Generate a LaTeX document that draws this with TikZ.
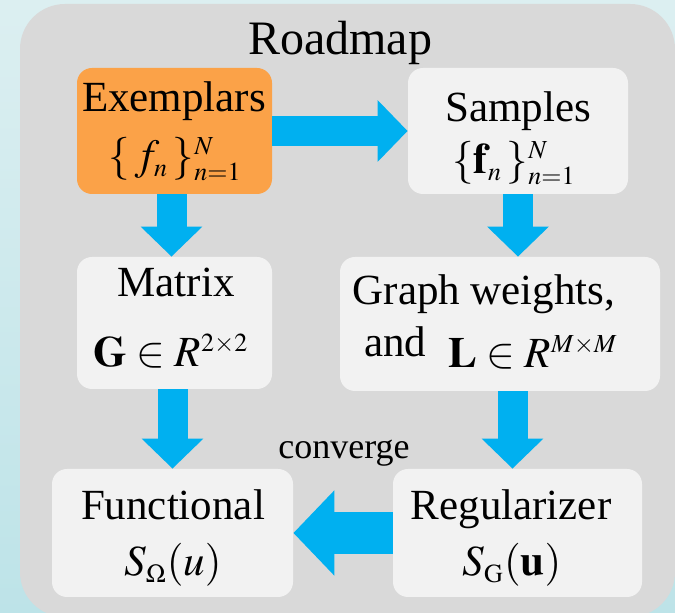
\documentclass[tikz,border=0pt]{standalone}
\usepackage{mathptmx}
\usepackage{fontspec}
\setmainfont{Liberation Serif}
\usetikzlibrary{arrows.meta}
% tighter script sizes for the formulas in the boxes
\DeclareMathSizes{21.5}{21.5}{13}{10}

\definecolor{skytop}{HTML}{DCEFF1}
\definecolor{skybot}{HTML}{BDE3E8}
\definecolor{panelgray}{HTML}{D9D9D9}
\definecolor{boxgray}{HTML}{F2F2F2}
\definecolor{exorange}{HTML}{FBA248}
\definecolor{flowblue}{HTML}{00B0F0}

\tikzset{
  panel/.style={fill=boxgray, rounded corners=7.5pt, inner sep=0pt, draw=none},
  hot/.style={panel, fill=exorange},
  flow/.style={draw=flowblue, line width=15pt, -{Triangle[width=30pt,length=15pt]}},
  bigflow/.style={draw=flowblue, line width=21pt, -{Triangle[width=41.5pt,length=20.5pt]}},
  lbl/.style={anchor=base, inner sep=0pt, font=\fontsize{21.5}{26}\selectfont},
}

\begin{document}
\begin{tikzpicture}[x=0.5pt,y=-0.5pt]
\useasboundingbox (0,0) rectangle (675,613);

% slide backdrop and the roadmap panel
\shade[top color=skytop, middle color=white, bottom color=skybot] (0,0) rectangle (675,613);
\fill[panelgray, rounded corners=22.5pt] (20,4) rectangle (675,617);

% boxes
\node[hot,   minimum width=97.5pt, minimum height=63pt] (ex)   at (174.5,131) {};
\node[panel, minimum width=110pt,  minimum height=63pt] (samp) at (518,131) {};
\node[panel, minimum width=97.5pt, minimum height=66pt] (mat)  at (174.5,323) {};
\node[panel, minimum width=160pt,  minimum height=67pt] (gw)   at (500,324) {};
\node[panel, minimum width=120.5pt,minimum height=64pt] (func) at (172.5,533) {};
\node[panel, minimum width=124.5pt,minimum height=64pt] (reg)  at (517.5,533) {};

% flow arrows
\draw[flow] (ex.east) -- (samp.west);
\draw[flow] ([xshift=-1.5pt]ex.south) -- ([xshift=-1.5pt]mat.north);
\draw[flow] (samp.south) -- (samp.south |- gw.north);
\draw[flow] (func.north |- mat.south) -- (func.north);
\coordinate (gr) at ([xshift=-2.5pt]reg.north);
\draw[flow] (gr |- gw.south) -- (gr);
\draw[bigflow] (reg.west) -- (func.east);

% texts
\node[lbl, font=\fontsize{24}{28}\selectfont] (title) at (340,55) {Roadmap};
\node[lbl] (exa) at (174,112) {Exemplars};
\node[lbl] (exb) at (175,170) {$\{\,f_n\,\}_{n=1}^{N}$};
\node[lbl] (sa) at (518,122) {Samples};
\node[lbl] (sb) at (514,174) {$\{\mathbf{f}_n\,\}_{n=1}^{N}$};
\node[lbl] (ma) at (176,297) {Matrix};
\node[lbl] (mb) at (171,367) {$\mathbf{G}\in R^{2\times 2}$};
\node[lbl] (ga) at (484,305) {Graph weights,};
\node[lbl] (gb) at (491,368) {\raisebox{5.5pt}{and}\hspace{11pt}$\mathbf{L}\in R^{M\times M}$};
\node[lbl, font=\fontsize{18}{22}\selectfont] (conv) at (344,459) {converge};
\node[lbl] (fa) at (173,520) {Functional};
\node[lbl] (fb) at (173,576) {$S_{\Omega}(u)$};
\node[lbl] (ra) at (511,520) {Regularizer};
\node[lbl] (rb) at (512,576) {$S_{\mathrm{G}}(\mathbf{u})$};
\end{tikzpicture}
\end{document}
